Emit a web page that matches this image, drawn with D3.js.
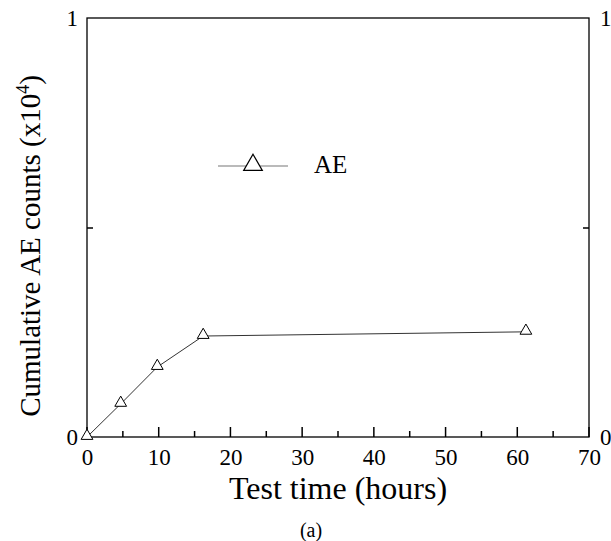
<!DOCTYPE html>
<html lang="en">
<head>
    <meta charset="UTF-8">
    <title>Cumulative AE counts</title>
    <script src="https://cdn.jsdelivr.net/npm/d3@7/dist/d3.min.js"></script>
    <style>
        body { margin: 0; background: #fff; }
        text { font-family: "Liberation Serif", "Times New Roman", serif; fill: #000; }
    </style>
</head>
<body>
<svg width="611" height="541"></svg>
<script>
    // data
    var hours = [0, 4.7, 9.8, 16.2, 61.2];          // test time (hours)
    var counts = [0, 0.079, 0.167, 0.241, 0.251];   // cumulative AE counts (x10^4)
    var xTicks = [0, 10, 20, 30, 40, 50, 60, 70];
    var xMinor = [5, 15, 25, 35, 45, 55, 65];
    var yTicks = [0, 1];
    var yMid = [0.5];

    var svg = d3.select('svg');
    var pL = 87, pR = 589, pT = 18, pB = 437;

    var x = d3.scaleLinear().domain([0, 70]).range([pL, pR]);
    var y = d3.scaleLinear().domain([0, 1]).range([pB, pT]);
    var fmt = d3.format('d');

    // frame
    svg.append('rect')
        .attr('x', pL).attr('y', pT)
        .attr('width', pR - pL).attr('height', pB - pT)
        .attr('fill', 'none').attr('stroke', '#000').attr('stroke-width', 1.3);

    // bottom axis labels
    var gx = svg.append('g').attr('transform', 'translate(0,' + pB + ')');
    gx.call(d3.axisBottom(x).tickValues(xTicks).tickFormat(fmt).tickSize(0).tickPadding(12));
    gx.selectAll('.domain').remove();
    gx.selectAll('text').attr('font-size', 23).attr('font-family', 'Liberation Serif');

    // tick marks pointing into the plot
    svg.selectAll('.xmaj')
        .data(xTicks)
        .enter()
        .append('line')
        .attr('class', 'xmaj')
        .attr('x1', x).attr('x2', x)
        .attr('y1', pB).attr('y2', pB - 10)
        .attr('stroke', '#000').attr('stroke-width', 1.5);
    svg.selectAll('.xmin')
        .data(xMinor)
        .enter()
        .append('line')
        .attr('class', 'xmin')
        .attr('x1', x).attr('x2', x)
        .attr('y1', pB).attr('y2', pB - 6)
        .attr('stroke', '#000').attr('stroke-width', 1.5);

    // left and right axes
    var gl = svg.append('g').attr('transform', 'translate(' + pL + ',0)');
    gl.call(d3.axisLeft(y).tickValues(yTicks).tickFormat(fmt).tickSize(0).tickPadding(9));
    gl.append('g').call(d3.axisLeft(y).tickValues(yMid).tickSizeInner(-6).tickSizeOuter(0).tickFormat(''));
    var gr = svg.append('g').attr('transform', 'translate(' + pR + ',0)');
    gr.call(d3.axisRight(y).tickValues(yTicks).tickFormat(fmt).tickSize(0).tickPadding(11));
    gr.append('g').call(d3.axisRight(y).tickValues(yMid).tickSizeInner(-6).tickSizeOuter(0).tickFormat(''));
    svg.selectAll('.domain').remove();
    [gl, gr].forEach(function (g) {
        g.selectAll('line').attr('stroke', '#000').attr('stroke-width', 1.5);
        g.selectAll('text').attr('font-size', 23).attr('font-family', 'Liberation Serif');
    });

    // series line
    var line = d3.line().x(function (d, i) { return x(hours[i]); }).y(function (d) { return y(d); });
    svg.append('path')
        .datum(counts)
        .attr('d', line)
        .attr('fill', 'none')
        .attr('stroke', '#333')
        .attr('stroke-width', 1);

    // triangle markers
    var tri = d3.symbol().type(d3.symbolTriangle).size(60);
    svg.selectAll('.pt')
        .data(counts)
        .enter()
        .append('path')
        .attr('class', 'pt')
        .attr('d', tri)
        .attr('transform', function (d, i) { return 'translate(' + x(hours[i]) + ',' + (y(d) - 1) + ')'; })
        .attr('fill', '#fff')
        .attr('stroke', '#000')
        .attr('stroke-width', 1);

    // legend
    var lg = svg.append('g');
    lg.append('line')
        .attr('x1', 218).attr('x2', 288).attr('y1', 166).attr('y2', 166)
        .attr('stroke', '#777').attr('stroke-width', 1.2);
    lg.append('path')
        .attr('d', d3.symbol().type(d3.symbolTriangle).size(150))
        .attr('transform', 'translate(253,165)')
        .attr('fill', '#fff').attr('stroke', '#000').attr('stroke-width', 1.2);
    lg.append('text')
        .attr('x', 314).attr('y', 173)
        .attr('font-size', 25)
        .text('AE');

    // axis titles
    svg.append('text')
        .attr('x', (pL + pR) / 2).attr('y', 499)
        .attr('text-anchor', 'middle')
        .attr('font-size', 32)
        .text('Test time (hours)');

    var yt = svg.append('text')
        .attr('transform', 'translate(40,246) rotate(-90)')
        .attr('text-anchor', 'middle')
        .attr('font-size', 29);
    yt.append('tspan').text('Cumulative AE counts (x10');
    yt.append('tspan').attr('dy', -11).attr('font-size', 18).text('4');
    yt.append('tspan').attr('dy', 11).text(')');

    svg.append('text')
        .attr('x', 311).attr('y', 537)
        .attr('text-anchor', 'middle')
        .attr('font-size', 20)
        .text('(a)');
</script>
</body>
</html>
